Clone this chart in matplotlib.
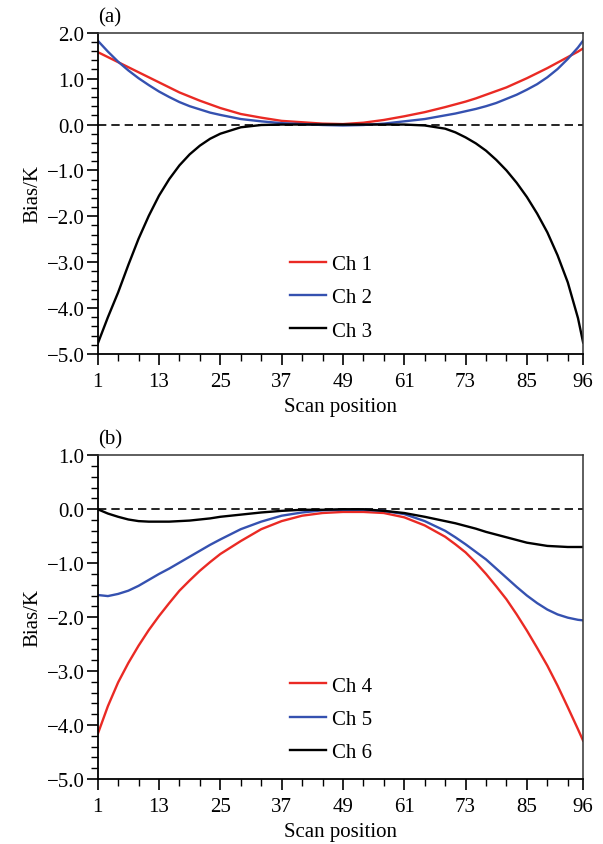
import numpy as np
import matplotlib
matplotlib.use("Agg")
from matplotlib import pyplot as plt
from matplotlib.ticker import MultipleLocator

plt.rcParams['font.family'] = ['Liberation Serif', 'DejaVu Serif']

# scan positions (denser near the edges, where they bend most)
scan_pos = [1, 3, 5, 7, 9, 11, 13, 15, 17, 19, 21, 23, 25,
            29, 33, 37, 41, 45, 49, 53, 57, 61, 65,
            69, 71, 73, 75, 77, 79, 81, 83, 85, 87, 89, 91, 93, 95, 96]

# panel (a)
ch1 = [1.58, 1.47, 1.36, 1.25, 1.14, 1.03, 0.92, 0.81, 0.70, 0.61, 0.52, 0.44, 0.36,
       0.23, 0.15, 0.08, 0.05, 0.02, 0.01, 0.04, 0.10, 0.18, 0.27,
       0.38, 0.44, 0.50, 0.57, 0.65, 0.73, 0.81, 0.91, 1.01, 1.12, 1.23, 1.35, 1.47, 1.59, 1.66]
ch2 = [1.83, 1.59, 1.37, 1.18, 1.01, 0.86, 0.72, 0.60, 0.49, 0.40, 0.33, 0.26, 0.21,
       0.12, 0.07, 0.03, 0.01, -0.01, -0.02, -0.01, 0.02, 0.07, 0.12,
       0.20, 0.24, 0.29, 0.34, 0.40, 0.47, 0.56, 0.65, 0.76, 0.88, 1.03, 1.21, 1.43, 1.68, 1.83]
ch3 = [-4.78, -4.20, -3.66, -3.06, -2.49, -1.99, -1.55, -1.19, -0.89, -0.65, -0.46, -0.31, -0.20,
       -0.06, -0.01, 0.0, 0.0, 0.0, 0.0, 0.0, 0.0, 0.0, -0.02,
       -0.09, -0.17, -0.28, -0.41, -0.57, -0.77, -1.00, -1.27, -1.58, -1.94, -2.35, -2.85, -3.44, -4.22, -4.75]

# panel (b)
ch4 = [-4.17, -3.65, -3.21, -2.85, -2.53, -2.24, -1.98, -1.74, -1.51, -1.32, -1.14, -0.98, -0.83,
       -0.59, -0.37, -0.22, -0.12, -0.07, -0.05, -0.05, -0.07, -0.15, -0.30,
       -0.51, -0.65, -0.80, -0.99, -1.20, -1.43, -1.67, -1.95, -2.25, -2.57, -2.90, -3.27, -3.67, -4.08, -4.29]
ch5 = [-1.59, -1.61, -1.57, -1.51, -1.42, -1.31, -1.20, -1.10, -0.99, -0.88, -0.77, -0.66, -0.56,
       -0.37, -0.23, -0.12, -0.06, -0.02, -0.01, -0.01, -0.03, -0.09, -0.22,
       -0.40, -0.52, -0.65, -0.79, -0.93, -1.10, -1.27, -1.44, -1.60, -1.74, -1.86, -1.95, -2.01, -2.05, -2.06]
ch6 = [0.0, -0.08, -0.14, -0.19, -0.22, -0.23, -0.23, -0.23, -0.22, -0.21, -0.19, -0.17, -0.14,
       -0.10, -0.06, -0.03, -0.01, -0.01, 0.0, 0.0, -0.03, -0.07, -0.14,
       -0.22, -0.26, -0.31, -0.36, -0.42, -0.47, -0.52, -0.57, -0.62, -0.65, -0.68, -0.69, -0.70, -0.70, -0.70]

xticks = [1, 13, 25, 37, 49, 61, 73, 85, 96]
xminor = [5, 9, 17, 21, 29, 33, 41, 45, 53, 57, 65, 69, 77, 81, 89, 93]
yticks_a = [2.0, 1.0, 0.0, -1.0, -2.0, -3.0, -4.0, -5.0]
yticks_b = [1.0, 0.0, -1.0, -2.0, -3.0, -4.0, -5.0]

red = '#EA2A24'
blue = '#3551B0'
fs = 15


def fmt(v):
    return f"{v:.1f}".replace('-', '\u2212')


def draw_panel(ax, series, labels, yticks, tag, leg_y):
    colors = [red, blue, 'black']
    for y, lab, c in zip(series, labels, colors):
        ax.plot(scan_pos, y, color=c, lw=1.7, label=lab, solid_joinstyle='round')
    ax.axhline(0, color='black', lw=1.2, ls=(0, (5, 3)), zorder=1)

    ax.set_xlim(1, 96)
    ax.set_ylim(min(yticks), max(yticks))
    ax.set_xticks(xticks)
    ax.set_xticklabels([str(t) for t in xticks], fontsize=fs)
    ax.set_yticks(yticks)
    ax.set_yticklabels([fmt(t) for t in yticks], fontsize=fs)
    ax.set_xticks(xminor, minor=True)
    ax.yaxis.set_minor_locator(MultipleLocator(0.2))
    ax.tick_params(which='major', direction='out', length=8, width=1.2, pad=1.5)
    ax.tick_params(which='minor', direction='out', length=5, width=1.0)
    ax.tick_params(axis='x', which='major', pad=5)
    ax.tick_params(top=False, right=False, which='both')

    for s in ['left', 'bottom']:
        ax.spines[s].set_linewidth(1.3)
    for s in ['top', 'right']:
        ax.spines[s].set_linewidth(1.1)
        ax.spines[s].set_color('#333333')

    ax.set_xlabel("Scan position", fontsize=fs, labelpad=4)
    ax.set_ylabel("Bias/K", fontsize=fs, labelpad=3)
    ax.text(0.0, 1.02, tag, transform=ax.transAxes, fontsize=fs, ha='left', va='bottom')

    ax.legend(loc='center left', bbox_to_anchor=(0.396, leg_y), frameon=False,
              fontsize=fs, handlelength=1.75, handletextpad=0.25, labelspacing=0.66,
              borderpad=0, borderaxespad=0)


fig = plt.figure(figsize=(6.03, 8.45), dpi=100)
ax_a = fig.add_axes([0.162, 0.580, 0.805, 0.380])
ax_b = fig.add_axes([0.162, 0.077, 0.805, 0.383])

draw_panel(ax_a, [ch1, ch2, ch3], ['Ch 1', 'Ch 2', 'Ch 3'], yticks_a, '(a)', 0.176)
draw_panel(ax_b, [ch4, ch5, ch6], ['Ch 4', 'Ch 5', 'Ch 6'], yticks_b, '(b)', 0.185)

fig.savefig('out.png', dpi=100)
